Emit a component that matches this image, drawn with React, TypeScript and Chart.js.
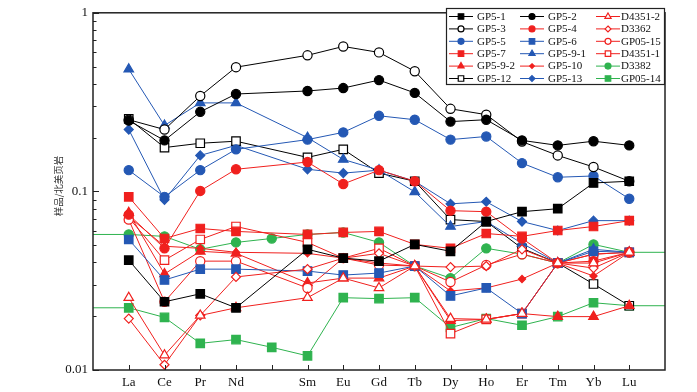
import { useEffect, useRef } from 'react';
import { Chart, registerables } from 'chart.js';
Chart.register(...registerables);

// Categories (index 4 = Pm, unlabeled)
const categories = ['La', 'Ce', 'Pr', 'Nd', '', 'Sm', 'Eu', 'Gd', 'Tb', 'Dy', 'Ho', 'Er', 'Tm', 'Yb', 'Lu'];
const yTickLabels = [0.01, 0.1, 1];
const yTitle = '样品/北美页岩';

// Series values (La..Lu, null = no value at Pm)
const GP5_1 = [0.0412, 0.0241, 0.0267, 0.0223, null, 0.0474, 0.0423, 0.0407, 0.0505, 0.0462, 0.0678, 0.077, 0.080, 0.1115, 0.114];
const GP5_2 = [0.249, 0.193, 0.279, 0.351, null, 0.365, 0.379, 0.420, 0.356, 0.246, 0.252, 0.193, 0.181, 0.191, 0.181];
const D4351_2 = [0.0254, 0.0121, 0.0202, 0.0223, null, 0.0254, 0.0327, 0.0288, 0.0382, 0.0194, 0.0192, 0.0207, 0.0397, 0.0397, 0.0456];
const GP5_3 = [0.252, 0.222, 0.342, 0.496, null, 0.578, 0.648, 0.600, 0.471, 0.290, 0.269, 0.190, 0.159, 0.137, 0.114];
const GP5_4 = [0.0741, 0.048, 0.1006, 0.133, null, 0.146, 0.110, 0.1315, 0.114, 0.078, 0.077, 0.0545, 0.0397, 0.0407, 0.0456];
const D3362 = [0.0194, 0.0107, 0.0202, 0.0332, null, 0.0367, 0.0423, 0.045, 0.0382, 0.0377, 0.0382, 0.0474, 0.0397, 0.0372, 0.0456];
const GP5_5 = [0.1315, 0.0932, 0.1315, 0.172, null, 0.195, 0.214, 0.265, 0.252, 0.195, 0.203, 0.144, 0.120, 0.122, 0.0909];
const GP5_6 = [0.0538, 0.0319, 0.0367, 0.0367, null, 0.0358, 0.034, 0.0349, 0.0382, 0.026, 0.0288, 0.0207, 0.0397, 0.0462, 0.0456];
const GP05_15 = [0.0695, 0.0241, 0.0407, 0.0407, null, 0.0288, 0.0423, 0.0387, 0.0382, 0.0311, 0.0387, 0.0445, 0.0397, 0.0445, 0.0456];
const GP5_7 = [0.0932, 0.0545, 0.062, 0.0597, null, 0.0574, 0.0589, 0.0597, 0.0505, 0.048, 0.0581, 0.056, 0.0604, 0.0636, 0.0686];
const GP5_9_1 = [0.483, 0.234, 0.313, 0.313, null, 0.200, 0.151, 0.1315, 0.0994, 0.0636, 0.0678, 0.0512, 0.0397, 0.0474, 0.0456];
const D4351_1 = [0.0713, 0.0412, 0.0538, 0.0636, null, 0.0518, 0.0423, 0.048, 0.0382, 0.016, 0.0192, 0.0207, 0.0397, 0.0445, 0.0456];
const GP5_9_2 = [0.076, 0.0345, 0.0462, 0.045, null, 0.0307, 0.0327, 0.0327, 0.0382, 0.0189, 0.0192, 0.0207, 0.0199, 0.0199, 0.0229];
const GP5_10 = [0.0722, 0.0493, 0.048, 0.0456, null, 0.045, 0.0423, 0.0397, 0.0382, 0.0277, 0.0288, 0.0323, 0.0397, 0.0336, 0.0456];
const D3382 = [0.0574, 0.056, 0.0474, 0.0518, 0.0545, 0.0574, 0.0589, 0.0518, 0.0382, 0.0327, 0.048, 0.0445, 0.0397, 0.0505, 0.0456];
const GP5_12 = [0.255, 0.176, 0.186, 0.191, null, 0.155, 0.172, 0.1266, 0.114, 0.0695, 0.0678, 0.048, 0.0397, 0.0303, 0.0229];
const GP5_13 = [0.222, 0.0897, 0.159, 0.181, null, 0.133, 0.1266, 0.1315, 0.114, 0.0852, 0.0875, 0.0678, 0.0604, 0.0686, 0.0686];
const GP05_14 = [0.0223, 0.0197, 0.0141, 0.0148, 0.0134, 0.012, 0.0254, 0.0251, 0.0254, 0.0173, 0.0194, 0.0178, 0.0199, 0.0238, 0.0229];

const BLACK = '#000000';
const RED = '#f0201e';
const BLUE = '#2458b4';
const GREEN = '#2fb34f';

type Style = 'circle' | 'rect' | 'triangle' | 'rectRot';
interface Series { name: string; values: (number | null)[]; color: string; style: Style; filled: boolean; r: number; extend?: boolean; }

// legend order (row-major, 3 columns)
const series: Series[] = [
  { name: 'GP5-1', values: GP5_1, color: BLACK, style: 'rect', filled: true, r: 6 },
  { name: 'GP5-2', values: GP5_2, color: BLACK, style: 'circle', filled: true, r: 4.6 },
  { name: 'D4351-2', values: D4351_2, color: RED, style: 'triangle', filled: false, r: 5.5 },
  { name: 'GP5-3', values: GP5_3, color: BLACK, style: 'circle', filled: false, r: 4.6 },
  { name: 'GP5-4', values: GP5_4, color: RED, style: 'circle', filled: true, r: 4.6 },
  { name: 'D3362', values: D3362, color: RED, style: 'rectRot', filled: false, r: 4.5 },
  { name: 'GP5-5', values: GP5_5, color: BLUE, style: 'circle', filled: true, r: 4.6 },
  { name: 'GP5-6', values: GP5_6, color: BLUE, style: 'rect', filled: true, r: 6 },
  { name: 'GP05-15', values: GP05_15, color: RED, style: 'circle', filled: false, r: 4.6 },
  { name: 'GP5-7', values: GP5_7, color: RED, style: 'rect', filled: true, r: 6 },
  { name: 'GP5-9-1', values: GP5_9_1, color: BLUE, style: 'triangle', filled: true, r: 5.5 },
  { name: 'D4351-1', values: D4351_1, color: RED, style: 'rect', filled: false, r: 6 },
  { name: 'GP5-9-2', values: GP5_9_2, color: RED, style: 'triangle', filled: true, r: 5.5 },
  { name: 'GP5-10', values: GP5_10, color: RED, style: 'rectRot', filled: true, r: 3.6 },
  { name: 'D3382', values: D3382, color: GREEN, style: 'circle', filled: true, r: 4.6, extend: true },
  { name: 'GP5-12', values: GP5_12, color: BLACK, style: 'rect', filled: false, r: 6 },
  { name: 'GP5-13', values: GP5_13, color: BLUE, style: 'rectRot', filled: true, r: 4.5 },
  { name: 'GP05-14', values: GP05_14, color: GREEN, style: 'rect', filled: true, r: 6, extend: true },
];

const SERIF = '"Liberation Serif", "DejaVu Serif", serif';

function drawMarker(ctx: CanvasRenderingContext2D, s: Series, x: number, y: number, r: number) {
  ctx.save();
  ctx.beginPath();
  if (s.style === 'circle') {
    ctx.arc(x, y, r, 0, Math.PI * 2);
  } else if (s.style === 'rect') {
    const h = r * Math.SQRT1_2;
    ctx.rect(x - h, y - h, 2 * h, 2 * h);
  } else if (s.style === 'triangle') {
    ctx.moveTo(x, y - r);
    ctx.lineTo(x + r * 0.866, y + r * 0.5);
    ctx.lineTo(x - r * 0.866, y + r * 0.5);
    ctx.closePath();
  } else {
    ctx.moveTo(x, y - r);
    ctx.lineTo(x + r, y);
    ctx.lineTo(x, y + r);
    ctx.lineTo(x - r, y);
    ctx.closePath();
  }
  ctx.fillStyle = s.filled ? s.color : '#ffffff';
  ctx.fill();
  ctx.strokeStyle = s.color;
  ctx.lineWidth = 1.2;
  ctx.stroke();
  ctx.restore();
}

const decorPlugin = {
  id: 'decor',
  afterDraw(chart: any) {
    const ctx: CanvasRenderingContext2D = chart.ctx;
    const { left, right, top, bottom } = chart.chartArea;
    const xs = chart.scales.x;
    const ys = chart.scales.y;
    ctx.save();
    ctx.strokeStyle = '#222';
    ctx.lineWidth = 1;
    // x ticks (inside)
    for (let i = 0; i < categories.length; i++) {
      const px = Math.round(xs.getPixelForValue(i)) + 0.5;
      ctx.beginPath();
      ctx.moveTo(px, bottom);
      ctx.lineTo(px, bottom - 5);
      ctx.stroke();
    }
    // y ticks (inside)
    const decades = [0.01, 0.1];
    for (const d of decades) {
      for (let k = 1; k <= 9; k++) {
        const py = Math.round(ys.getPixelForValue(d * k)) + 0.5;
        const len = k === 1 ? 6 : 3.5;
        ctx.beginPath();
        ctx.moveTo(left, py);
        ctx.lineTo(left + len, py);
        ctx.stroke();
      }
    }
    const p1 = Math.round(ys.getPixelForValue(1)) + 0.5;
    ctx.beginPath();
    ctx.moveTo(left, p1);
    ctx.lineTo(left + 6, p1);
    ctx.stroke();
    // frame
    ctx.lineWidth = 1.5;
    ctx.strokeStyle = '#222';
    ctx.strokeRect(left, top, right - left, bottom - top);

    // y title
    ctx.save();
    ctx.translate(58, 186);
    ctx.rotate(-Math.PI / 2);
    ctx.fillStyle = '#333';
    ctx.font = '9.5px "Noto Sans CJK SC", sans-serif';
    ctx.textAlign = 'center';
    ctx.textBaseline = 'middle';
    ctx.fillText(yTitle, 0, 0);
    ctx.restore();

    // legend
    const bx = 446.5, by = 8.5, bw = 218, bh = 76;
    ctx.fillStyle = '#ffffff';
    ctx.fillRect(bx, by, bw, bh);
    ctx.lineWidth = 1.2;
    ctx.strokeStyle = '#222';
    ctx.strokeRect(bx, by, bw, bh);
    const colX = [449, 520, 596];
    const textX = [477, 548, 621];
    const rowY0 = 16.5, rowDy = 12.4;
    ctx.font = `11px ${SERIF}`;
    ctx.textBaseline = 'middle';
    ctx.textAlign = 'left';
    series.forEach((s, i) => {
      const col = i % 3;
      const row = Math.floor(i / 3);
      const x0 = colX[col];
      const y0 = rowY0 + row * rowDy;
      ctx.strokeStyle = s.color;
      ctx.lineWidth = 1;
      ctx.beginPath();
      ctx.moveTo(x0, y0);
      ctx.lineTo(x0 + 24, y0);
      ctx.stroke();
      drawMarker(ctx, s, x0 + 12, y0, s.r * 0.65);
      ctx.fillStyle = '#111';
      ctx.fillText(s.name, textX[col], y0 + 0.5);
    });
    ctx.restore();
  },
};

export default function App() {
  const ref = useRef<HTMLCanvasElement | null>(null);
  useEffect(() => {
    document.body.style.margin = '0';
    const canvas = ref.current!;
    const last = categories.length - 1;
    const datasets = series.map((s) => {
      const pts: { x: number; y: number }[] = [];
      s.values.forEach((v, i) => { if (v != null) pts.push({ x: i, y: v }); });
      if (s.extend) {
        pts.unshift({ x: -1, y: s.values[0] as number });
        pts.push({ x: last + 1, y: s.values[last] as number });
      }
      return {
        label: s.name,
        data: pts,
        borderColor: s.color,
        backgroundColor: s.filled ? s.color : '#ffffff',
        pointBorderColor: s.color,
        pointBackgroundColor: s.filled ? s.color : '#ffffff',
        pointStyle: s.style,
        pointRadius: (c: any) => (c.raw && (c.raw.x < 0 || c.raw.x > last) ? 0 : s.r),
        pointBorderWidth: 1.2,
        borderWidth: 1,
        tension: 0,
        showLine: true,
        spanGaps: true,
      };
    });
    const chart = new Chart(canvas, {
      type: 'scatter',
      data: { datasets } as any,
      options: {
        animation: false,
        responsive: false,
        maintainAspectRatio: false,
        layout: { padding: { left: 0, right: 32, top: 9, bottom: 0 } },
        plugins: { legend: { display: false }, tooltip: { enabled: false } },
        scales: {
          x: {
            type: 'linear',
            min: -1,
            max: last + 1,
            afterFit: (sc: any) => { sc.height = 22; },
            afterBuildTicks: (sc: any) => {
              const t = [];
              for (let i = -1; i <= last + 1; i++) t.push({ value: i });
              sc.ticks = t;
            },
            grid: { display: false, drawTicks: false },
            border: { display: false },
            ticks: {
              autoSkip: false,
              maxRotation: 0,
              padding: 5,
              color: '#111',
              font: { family: SERIF, size: 13 },
              callback: (v: any) => (categories[v as number] ?? ''),
            },
          },
          y: {
            type: 'logarithmic',
            min: 0.01,
            max: 1,
            afterFit: (sc: any) => { sc.width = 93; },
            grid: { display: false, drawTicks: false },
            border: { display: false },
            ticks: {
              autoSkip: false,
              padding: 5,
              color: '#111',
              font: { family: SERIF, size: 13 },
              callback: (v: any) => {
                const n = Number(v);
                const hit = yTickLabels.find((t) => Math.abs(t - n) / t < 1e-6);
                return hit != null ? String(hit) : '';
              },
            },
          },
        },
      },
      plugins: [decorPlugin],
    } as any);
    return () => chart.destroy();
  }, []);
  return <canvas ref={ref} width={697} height={392} style={{ display: 'block' }} />;
}
